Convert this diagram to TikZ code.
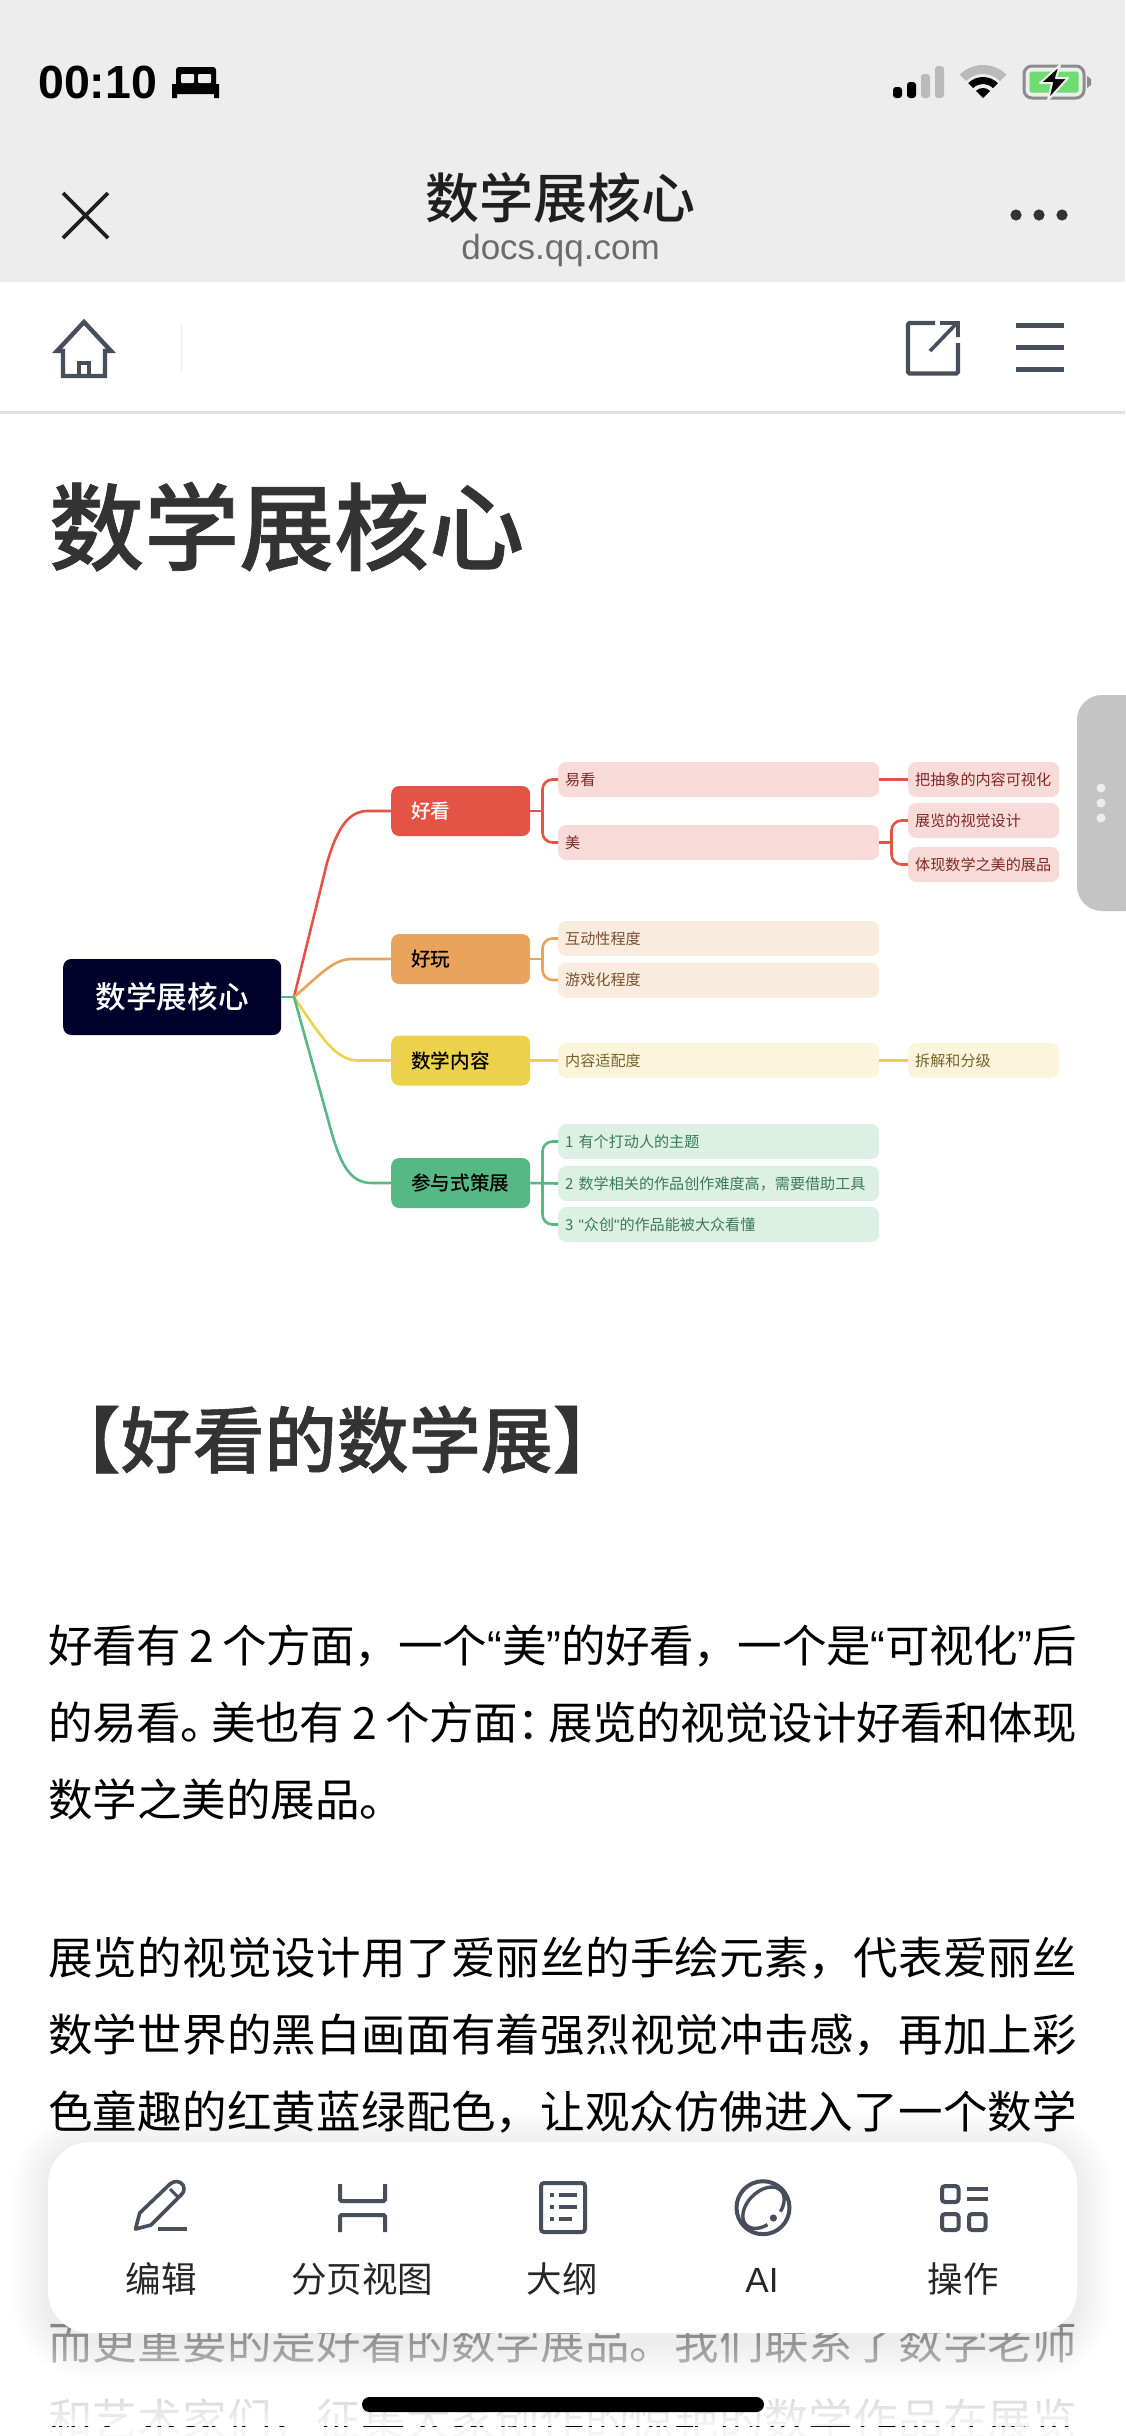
\documentclass[tikz,border=0pt]{standalone}
\usepackage{fontspec}
\setmainfont{Noto Sans CJK SC}
\newfontfamily\latf{Liberation Sans}
\newfontfamily\medf{Noto Sans CJK SC Medium}
\newfontfamily\semib[FakeBold=0.8]{Noto Sans CJK SC Medium}
\XeTeXlinebreaklocale "zh"
\XeTeXlinebreakskip=0pt plus 3pt minus 1pt
\newcommand\fs[1]{\fontsize{#1}{#1}\selectfont}
\newcommand\jl[1]{\parbox[b]{1029pt}{\tolerance=10000\hbadness=10000\parfillskip=0pt\parindent=0pt\rightskip=0pt\relax #1}}
\newcommand\qq[1]{{\latf #1}}
\definecolor{barg}{HTML}{EDEDED}
\definecolor{icong}{HTML}{474E5C}
\definecolor{ink}{HTML}{333333}
\definecolor{rootc}{HTML}{00002A}
\definecolor{redc}{HTML}{E55347}
\definecolor{orac}{HTML}{E9A35C}
\definecolor{yelc}{HTML}{ECD24A}
\definecolor{grec}{HTML}{56B882}
\definecolor{redl}{HTML}{F8DAD9}
\definecolor{oral}{HTML}{FAEBDF}
\definecolor{yell}{HTML}{FCF5DC}
\definecolor{grel}{HTML}{DCF0E3}
\definecolor{redt}{HTML}{7E2A24}
\definecolor{orat}{HTML}{7A5030}
\definecolor{yelt}{HTML}{75652A}
\definecolor{gret}{HTML}{3B7A5A}
\tikzset{
 lzero/.style={anchor=west,minimum height=50pt,text width=99pt,inner xsep=20pt,inner ysep=0pt,rounded corners=8pt,align=left,font=\medf\fs{19.6}},
 lone/.style={anchor=west,minimum height=35pt,text width=307pt,inner xsep=7pt,inner ysep=0pt,rounded corners=8pt,align=left,font=\fs{15.1}},
 ltwo/.style={anchor=west,minimum height=35pt,text width=137pt,inner xsep=7pt,inner ysep=0pt,rounded corners=8pt,align=left,font=\fs{15.1}},
 rbr/.style={fill=redl,text=redt},obr/.style={fill=oral,text=orat},
 ybr/.style={fill=yell,text=yelt},gbr/.style={fill=grel,text=gret},
 conn/.style={line width=2.6pt,rounded corners=10pt},
 link/.style={line width=2.6pt},
 icon/.style={draw=icong,line width=4pt},
 ilab/.style={anchor=center,inner sep=0pt,text=black!85,font=\fs{35.5}},
 body/.style={anchor=base west,inner sep=0pt,text=black,font=\fs{44.5}},
}
\begin{document}
\begin{tikzpicture}[x=1pt,y=-1pt]
\useasboundingbox (0,0) rectangle (1125,2436);
\fill[white] (0,0) rectangle (1125,2436);
% top bars
\fill[barg] (0,0) rectangle (1125,281.5);
\fill[barg!95!black] (0,411) rectangle (1125,414);
\node[anchor=base west,inner sep=0pt,font=\latf\bfseries\fs{46.5}] (time) at (38,98) {00:10};
% bed
\fill[black,rounded corners=3pt] (176,67) rectangle (216,89);
\fill[barg,rounded corners=1pt] (181,74) rectangle (194,83);
\fill[barg,rounded corners=1pt] (198,74) rectangle (211,83);
\fill[black] (172,84) rectangle (219,94) (172,94) rectangle (177,98) (214,94) rectangle (219,98);
% signal
\fill[black,rounded corners=3pt] (893,87) rectangle (902,98) (907,82) rectangle (916,98);
\fill[black!27,rounded corners=3pt] (921,74) rectangle (930,98) (935,66) rectangle (944,98);
% wifi
\fill[black!27] (983,98) ++(225:33) arc[start angle=225,end angle=315,radius=33] -- ++(135:9) arc[start angle=315,end angle=225,radius=24] -- cycle;
\fill[black] (983,98) ++(225:21) arc[start angle=225,end angle=315,radius=21] -- ++(135:7) arc[start angle=315,end angle=225,radius=14] -- cycle;
\fill[black] (983,98) -- ++(225:10) arc[start angle=225,end angle=315,radius=10] -- cycle;
% battery
\draw[black!45,line width=3pt,rounded corners=8pt] (1024,66) rectangle (1084,98);
\fill[green!60!gray!70,rounded corners=2pt] (1029.5,71.5) rectangle (1078.5,92.5);
\fill[black!45] (1087,76) -- (1091,79) -- (1091,85) -- (1087,88) -- cycle;
\draw[barg,line width=2pt,fill=black,line join=round] (1060,65) -- (1040,83) -- (1052,83) -- (1048,100) -- (1068,78) -- (1056,78) -- cycle;
% nav
\draw[black!88,line width=3.6pt] (63,193) -- (108,238) (108,193) -- (63,238);
\node[anchor=base,inner sep=0pt,text=black!88,font=\medf\fs{54}] (navt) at (560.5,218) {数学展核心};
\node[anchor=base,inner sep=0pt,text=black!58,font=\latf\fs{35}] (navu) at (560.5,259) {docs.qq.com};
\fill[black!80] (1016,215) circle (5.6) (1039,215) circle (5.6) (1062,215) circle (5.6);
% tool row
\draw[icong,line width=4.4pt,line join=miter] (84,322) -- (57,351) -- (63,351) -- (63,376) -- (105,376) -- (105,351) -- (111,351) -- cycle;
\draw[icong,line width=3.6pt] (79,376) -- (79,363) -- (89,363) -- (89,376);
\draw[barg,line width=1.5pt] (181.5,323) -- (181.5,370.5);
\draw[icong,line width=4.2pt,rounded corners=1.5pt] (935,323) -- (908,323) -- (908,373.5) -- (958,373.5) -- (958,343);
\draw[icong,line width=3.6pt] (930,351) -- (957,323) (940,323) -- (958,323) -- (958,337);
\draw[icong,line width=5pt] (1016,325) -- (1064,325) (1016,347) -- (1064,347) (1016,369) -- (1064,369);
% title
\node[anchor=base west,inner sep=0pt,text=ink,font=\semib\fs{95}] (title) at (49,563) {数学展核心};
% mind map
\node[anchor=west,minimum width=218pt,minimum height=76pt,inner sep=0pt,rounded corners=8pt,fill=rootc,text=white,font=\medf\fs{30.6}] (root) at (63,997) {数学展核心};
\coordinate (J) at (294,997);
\node[lzero,fill=redc,text=white] (hk) at (391,811) {好看};
\node[lzero,fill=orac,text=black] (hw) at (391,959) {好玩};
\node[lzero,fill=yelc,text=black] (sx) at (391,1060.5) {数学内容};
\node[lzero,fill=grec,text=black] (cy) at (391,1183) {参与式策展};
\node[lone,rbr] (yk) at (558,779.5) {易看};
\node[lone,rbr] (mei) at (558,842.5) {美};
\node[lone,obr] (hd) at (558,938.5) {互动性程度};
\node[lone,obr] (yx) at (558,980) {游戏化程度};
\node[lone,ybr] (nr) at (558,1060.5) {内容适配度};
\node[lone,gbr] (g1) at (558,1141.5) {1 有个打动人的主题};
\node[lone,gbr] (g2) at (558,1183.5) {2 数学相关的作品创作难度高，需要借助工具};
\node[lone,gbr] (g3) at (558,1224.5) {3 \qq{"}众创\qq{"}的作品能被大众看懂};
\node[ltwo,rbr] (cx) at (908,779.5) {把抽象的内容可视化};
\node[ltwo,rbr] (zl) at (908,820.5) {展览的视觉设计};
\node[ltwo,rbr] (tx) at (908,864.5) {体现数学之美的展品};
\node[ltwo,ybr] (cj) at (908,1060.5) {拆解和分级};
% main curves
\draw[link,redc] (J) -- (327,863) .. controls (338,825) and (350,811) .. (368,811) -- (hk.west);
\draw[link,orac] (J) .. controls (320,975) and (333,959) .. (352,959) -- (hw.west);
\draw[link,yelc] (J) .. controls (320,1035) and (335,1060.5) .. (358,1060.5) -- (sx.west);
\draw[link,grec] (J) -- (329,1123) .. controls (340,1165) and (350,1183) .. (372,1183) -- (cy.west);
\draw[link,grec] (root.east) -- (J);
% branch buses
\coordinate (b1) at (542.5,811);
\coordinate (b2) at (891.5,842.5);
\coordinate (b3) at (542.5,959);
\coordinate (b4) at (542.5,1183);
\draw[link,redc] (hk.east) -- (b1);
\draw[conn,redc] (yk.west) -| (b1) |- (mei.west);
\draw[link,redc] (yk.east) -- (cx.west);
\draw[link,redc] (mei.east) -- (b2);
\draw[conn,redc] (zl.west) -| (b2) |- (tx.west);
\draw[link,orac] (hw.east) -- (b3);
\draw[conn,orac] (hd.west) -| (b3) |- (yx.west);
\draw[link,yelc] (sx.east) -- (nr.west);
\draw[link,yelc] (nr.east) -- (cj.west);
\draw[link,grec] (cy.east) -- (g2.west);
\draw[conn,grec] (g1.west) -| (b4) |- (g3.west);
% side handle
\fill[black!23,rounded corners=25pt] (1077,695) rectangle (1170,911);
\fill[barg] (1101,788) circle (4.5) (1101,803) circle (4.5) (1101,818) circle (4.5);
% text
\node[anchor=base west,inner sep=0pt,text=ink,font=\semib\fs{72}] (head) at (48.5,1467) {【好看的数学展】};
\node[body] (p1) at (48,1662) {\jl{好看有 2 个方面，一个\qq{“}美\qq{”}的好看，一个是\qq{“}可视化\qq{”}后}};
\node[body] (p2) at (48,1739) {\jl{的易看。\kern-14pt 美也有 2 个方面：\kern-14pt 展览的视觉设计好看和体现}};
\node[body] (p3) at (48,1816) {数学之美的展品。};
\node[body] (q1) at (48,1974) {\jl{展览的视觉设计用了爱丽丝的手绘元素，代表爱丽丝}};
\node[body] (q2) at (48,2051) {\jl{数学世界的黑白画面有着强烈视觉冲击感，再加上彩}};
\node[body] (q3) at (48,2128) {\jl{色童趣的红黄蓝绿配色，让观众仿佛进入了一个数学}};
\node[body] (q6) at (48,2359) {\jl{而更重要的是好看的数学展品。我们联系了数学老师}};
\node[body] (q7) at (48,2436) {\jl{和艺术家们，征集大家创作的惊艳的数学作品在展览}};
% bottom fade
\foreach \y in {2300,2303,...,2424}{
 \pgfmathsetmacro\fadeval{min(0.96,0.5+(\y-2300)/136*0.5)}
 \fill[white,opacity=\fadeval] (0,\y) rectangle (1125,\y+3);
}
\fill[white,opacity=0.96] (0,2427) rectangle (1125,2450);
% shadow
\foreach \i in {1,...,18}{
 \fill[black,opacity=0.0045,rounded corners=42pt+\i*2pt] (48-\i*2,2146-\i*2) rectangle (1077+\i*2,2343+\i*2);
}
% toolbar
\fill[white,rounded corners=42pt] (48,2142) rectangle (1077,2333);
% pencil
\draw[icong,line width=3.6pt,line join=round] (135.5,2229) -- (139.7,2213) -- (170,2184) .. controls (175,2180) and (180,2181) .. (183,2185) .. controls (185,2189) and (184,2192) .. (181,2195) -- (151,2225) -- cycle;
\draw[icong,line width=3pt] (170,2189) -- (179,2198);
\draw[icong,line width=4.4pt] (158,2229) -- (187,2229);
% page
\draw[icon,rounded corners=1.5pt] (340,2184) -- (340,2201) -- (385,2201) -- (385,2184);
\draw[icon,rounded corners=1.5pt] (340,2232) -- (340,2215) -- (385,2215) -- (385,2232);
% outline
\draw[icon,rounded corners=3pt] (541,2183) rectangle (585,2232);
\draw[icong,line width=4pt] (550,2195) -- (554,2195) (559,2195) -- (577,2195) (550,2207) -- (554,2207) (559,2207) -- (577,2207) (550,2219) -- (554,2219) (559,2219) -- (572,2219);
% AI
\draw[icon] (763,2207.7) circle (26.5);
\draw[icong,line width=3.4pt,rotate around={45:(763.5,2207.7)}] (763.5,2207.7) ++(112:24.5 and 16) arc[start angle=112,end angle=428,x radius=24.5,y radius=16];
\fill[icong] (773.4,2218) circle (3.6);
% actions
\draw[icon,rounded corners=3pt] (942,2186) rectangle (958.5,2202);
\draw[icon,rounded corners=3pt] (942,2214) rectangle (958.5,2230);
\draw[icon,rounded corners=3pt] (969,2214) rectangle (985.5,2230);
\draw[icong,line width=4.2pt] (967,2189) -- (987.5,2189) (967,2199) -- (987.5,2199);
% labels
\node[ilab] (t1) at (161,2279) {编辑};
\node[ilab] (t2) at (362,2279) {分页视图};
\node[ilab] (t3) at (562,2279) {大纲};
\node[ilab,font=\latf\fs{35}] (t4) at (762,2280) {AI};
\node[ilab] (t5) at (963,2279) {操作};
% home indicator
\fill[black,rounded corners=7.5pt] (362,2397) rectangle (764,2412);
\end{tikzpicture}
\end{document}
